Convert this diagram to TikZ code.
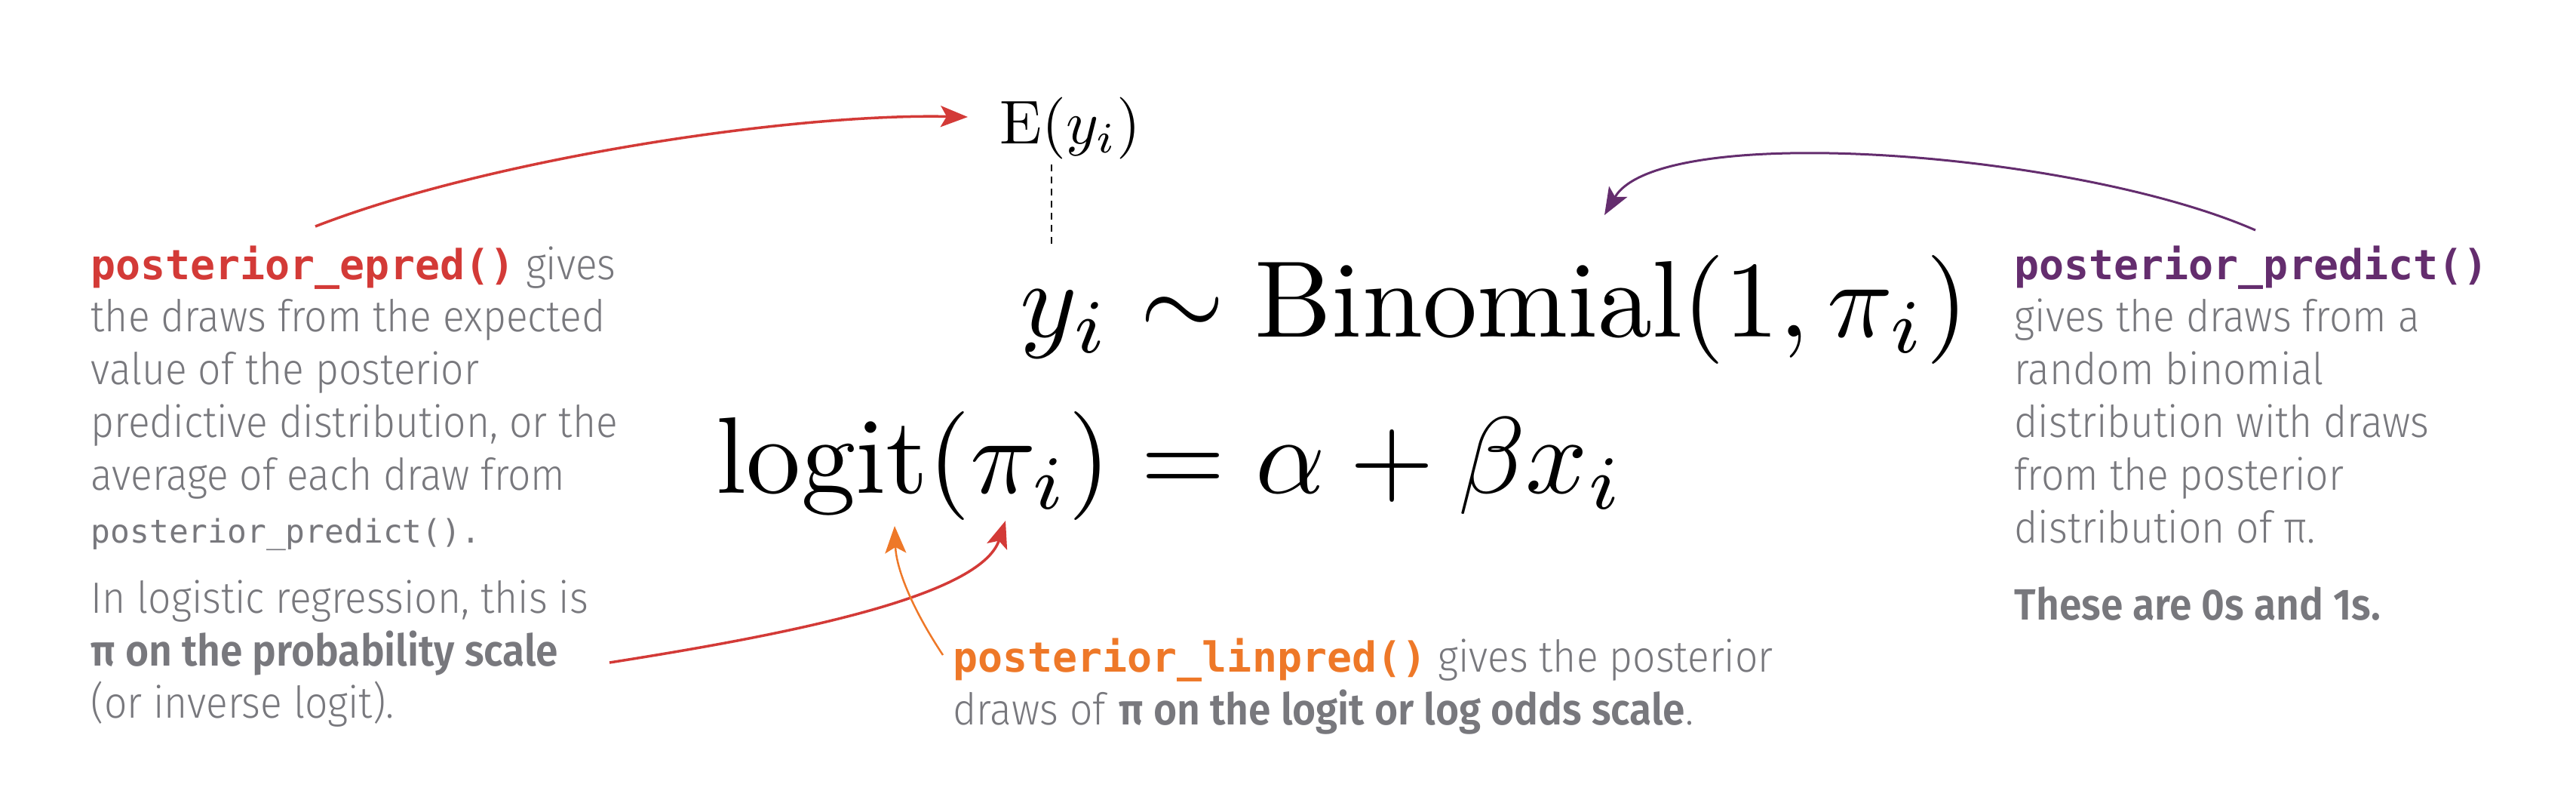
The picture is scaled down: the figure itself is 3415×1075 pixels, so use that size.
\documentclass[tikz,border=0pt]{standalone}
\usepackage{fontspec}
\usetikzlibrary{arrows.meta}
\newfontfamily\txtfont{Fira Sans}[FakeStretch=0.92, UprightFont={* Light}, BoldFont={* SemiBold}]
\newfontfamily\monofont{DejaVu Sans Mono}
\definecolor{fnred}{RGB}{211,58,55}
\definecolor{fnorange}{RGB}{238,120,40}
\definecolor{fnpurple}{RGB}{100,45,110}
\definecolor{txtgray}{RGB}{120,120,125}
\newcommand{\fnmono}{\monofont\bfseries\fontsize{15.6}{19.9}\selectfont}
\newcommand{\smallmono}{\monofont\fontsize{12.2}{19.9}\selectfont}
\tikzset{
  desc/.style={anchor=base west, inner sep=0pt, text=txtgray,
    font=\txtfont\fontsize{16.5}{19.9}\selectfont},
  bigmath/.style={anchor=base west, inner sep=0pt, font=\fontsize{10}{12}\selectfont,
    scale=4.1, transform shape},
  smallmath/.style={anchor=base west, inner sep=0pt, font=\fontsize{10}{12}\selectfont,
    scale=2.33, transform shape},
  tip/.style={-{Stealth[length=0.36cm, width=0.28cm, inset=0.08cm]}},
  redarrow/.style={tip, draw=fnred, line width=0.035cm},
  orangearrow/.style={tip, draw=fnorange, line width=0.025cm},
  purplearrow/.style={tip, draw=fnpurple, line width=0.03cm},
}
\begin{document}
\begin{tikzpicture}[x=0.01cm, y=-0.01cm]
\useasboundingbox (0,0) rectangle (3415,1075);

% math
\node[smallmath] (Ey) at (1324,190) {$\mathrm{E}(y_i)$};
\node[bigmath] (model) at (1350,446) {$y_i \sim \mathrm{Binomial}(1, \pi_i)$};
\node[bigmath] (link) at (947,653) {$\mathrm{logit}(\pi_i) = \alpha + \beta x_i$};

% left texts
\node[desc] (epred) at (120,370) {\begin{tabular}[t]{@{}l@{}}
{\fnmono\color{fnred}posterior\_epred()} gives\\
the draws from the expected\\
value of the posterior\\
predictive distribution, or the\\
average of each draw from\\
{\smallmono posterior\_predict().}
\end{tabular}};
\node[desc] (prob) at (120,812) {\begin{tabular}[t]{@{}l@{}}
In logistic regression, this is\\
\textbf{π on the probability scale}\\
(or inverse logit).
\end{tabular}};

% right texts
\node[desc] (predict) at (2670,370) {\begin{tabular}[t]{@{}l@{}}
{\fnmono\color{fnpurple}posterior\_predict()}\\
gives the draws from a\\
random binomial\\
distribution with draws\\
from the posterior\\
distribution of π.
\end{tabular}};
\node[desc] (zeroone) at (2670,821) {\textbf{These are 0s and 1s.}};

% bottom text
\node[desc] (linpred) at (1263,890) {\begin{tabular}[t]{@{}l@{}}
{\fnmono\color{fnorange}posterior\_linpred()} gives the posterior\\
draws of \textbf{π on the logit or log odds scale}.
\end{tabular}};

% connector ends
\coordinate (dtop) at (1394,218);
\coordinate (dbot) at (1394,327);
\coordinate (a1s) at (418,300);
\coordinate (a1e) at (1283,155);
\coordinate (a2s) at (808,878);
\coordinate (a2e) at (1333,690);
\coordinate (a3s) at (1250,868);
\coordinate (a3e) at (1186,697);
\coordinate (a4s) at (2990,305);
\coordinate (a4e) at (2127,285);

\draw[line width=0.02cm, dash pattern=on 0.09cm off 0.07cm] (dtop) -- (dbot);
\draw[redarrow] (a1s) .. controls (650,210) and (1050,150) .. (a1e);
\draw[redarrow] (a2s) .. controls (1050,840) and (1300,790) .. (a2e);
\draw[orangearrow] (a3s) .. controls (1205,800) and (1188,750) .. (a3e);
\draw[purplearrow] (a4s) .. controls (2750,200) and (2200,160) .. (a4e);
\end{tikzpicture}
\end{document}
